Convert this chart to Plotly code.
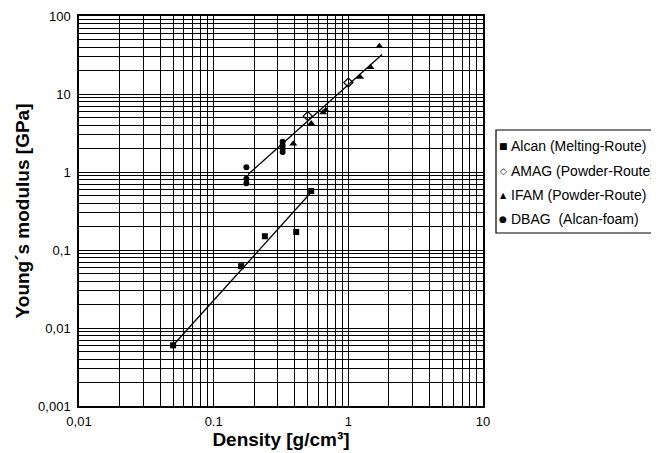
import plotly.graph_objects as go

# ---- data ----
alcan_density = [0.05, 0.16, 0.24, 0.41, 0.53]
alcan_modulus = [0.006, 0.062, 0.15, 0.17, 0.57]

amag_density = [0.5, 1.0]
amag_modulus = [5.2, 14.0]

ifam_density = [0.39, 0.53, 0.65, 0.68, 1.22, 1.46, 1.7]
ifam_modulus = [2.3, 4.2, 5.8, 6.2, 16.5, 22.0, 41.0]

dbag_density = [0.175, 0.175, 0.175, 0.325, 0.325, 0.325, 0.325]
dbag_modulus = [1.15, 0.82, 0.72, 2.45, 2.2, 2.0, 1.8]

fit_alcan_density = [0.05, 0.53]
fit_alcan_modulus = [0.006, 0.55]

fit_powder_density = [0.18, 1.78]
fit_powder_modulus = [0.93, 32.0]

x_tickvals = [0.01, 0.1, 1, 10]
x_ticktext = ["0,01", "0.1", "1", "10"]
y_tickvals = [0.001, 0.01, 0.1, 1, 10, 100]
y_ticktext = ["0,001", "0,01", "0,1", "1", "10", "100"]

legend_names = ["Alcan (Melting-Route)", "AMAG (Powder-Route)",
                "IFAM (Powder-Route)", "DBAG  (Alcan-foam)"]
legend_glyphs = ["\u25A0", "\u25C7", "\u25B2", "\u25CF"]

FONT = "Liberation Sans, Arial, sans-serif"

fig = go.Figure()

fig.add_trace(go.Scatter(x=fit_alcan_density, y=fit_alcan_modulus, mode="lines",
                         line=dict(color="black", width=1.3), showlegend=False))
fig.add_trace(go.Scatter(x=fit_powder_density, y=fit_powder_modulus, mode="lines",
                         line=dict(color="black", width=1.3), showlegend=False))

fig.add_trace(go.Scatter(x=alcan_density, y=alcan_modulus, mode="markers", name=legend_names[0],
                         marker=dict(symbol="square", size=6, color="black"), showlegend=False))
fig.add_trace(go.Scatter(x=amag_density, y=amag_modulus, mode="markers", name=legend_names[1],
                         marker=dict(symbol="diamond-open", size=7, color="black",
                                     line=dict(width=1.3, color="black")), showlegend=False))
fig.add_trace(go.Scatter(x=ifam_density, y=ifam_modulus, mode="markers", name=legend_names[2],
                         marker=dict(symbol="triangle-up", size=7, color="black"), showlegend=False))
fig.add_trace(go.Scatter(x=dbag_density, y=dbag_modulus, mode="markers", name=legend_names[3],
                         marker=dict(symbol="circle", size=6, color="black"), showlegend=False))

# legend drawn as a bordered box with glyphs and labels
L, R, T, B = 71, 475, 8, 398
W, H = R - L, B - T
def px_x(p):
    return (p - L) / W
def px_y(p):
    return (B - p) / H

fig.add_shape(type="rect", xref="paper", yref="paper",
              x0=px_x(488), x1=px_x(700), y0=px_y(225), y1=px_y(122),
              line=dict(color="black", width=1.2), fillcolor="white")

row_y = [138, 163, 187, 211]
glyph_sizes = [9, 9, 8, 9]
for name, glyph, gs, ry in zip(legend_names, legend_glyphs, glyph_sizes, row_y):
    fig.add_annotation(xref="paper", yref="paper", x=px_x(495), y=px_y(ry),
                       text=glyph, showarrow=False, xanchor="center", yanchor="middle",
                       font=dict(family="DejaVu Sans", size=gs, color="black"))
    fig.add_annotation(xref="paper", yref="paper", x=px_x(501), y=px_y(ry),
                       text=name, showarrow=False, xanchor="left", yanchor="middle",
                       font=dict(family=FONT, size=14, color="black"))

axis_common = dict(
    type="log",
    showline=True, mirror=True, linecolor="black", linewidth=1.5,
    showgrid=True, gridcolor="black", gridwidth=1.4,
    ticks="", zeroline=False, ticklabeloverflow="allow",
    tickfont=dict(family=FONT, size=13, color="black"),
    minor=dict(dtick="D1", showgrid=True, gridcolor="black", gridwidth=1.2, ticks=""),
)

fig.update_xaxes(**axis_common, range=[-2, 1],
                 tickvals=x_tickvals, ticktext=x_ticktext, ticklabelstandoff=3,
                 title=dict(text="Density [g/cm\u00b3]",
                            font=dict(family=FONT, size=19, color="black", weight="bold"),
                            standoff=0))
fig.update_yaxes(**axis_common, range=[-3, 2],
                 tickvals=y_tickvals, ticktext=y_ticktext, ticklabelstandoff=4,
                 title=dict(text="Young\u00b4s modulus [GPa]",
                            font=dict(family=FONT, size=19, color="black", weight="bold"),
                            standoff=3))

fig.update_layout(
    width=659, height=453,
    margin=dict(l=L, r=659 - R, t=T, b=453 - B, autoexpand=False),
    paper_bgcolor="white", plot_bgcolor="white",
    showlegend=False,
    font=dict(family=FONT, color="black"),
)

fig.write_html("out.html")
